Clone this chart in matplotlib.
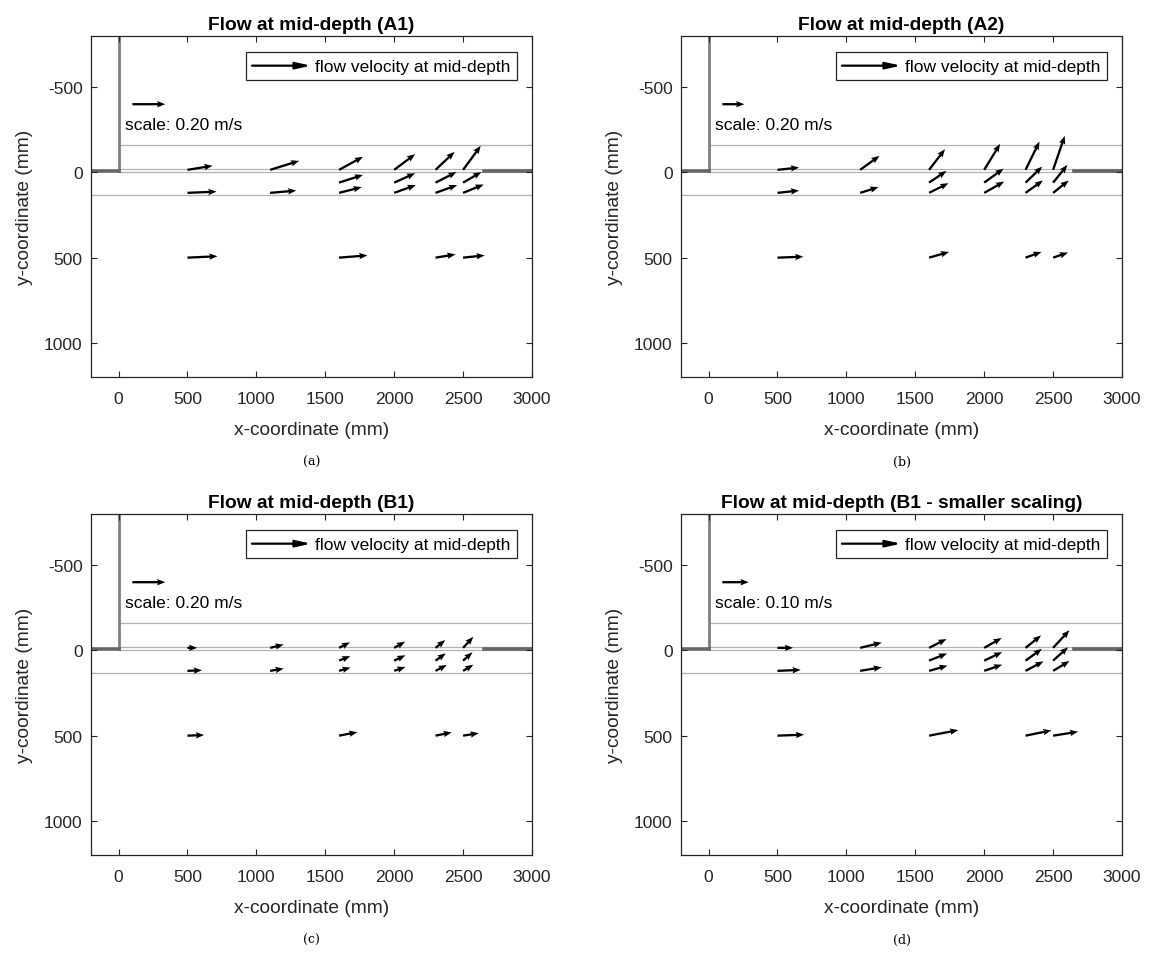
import matplotlib
matplotlib.use("Agg")
import matplotlib.pyplot as plt
from matplotlib.patches import Rectangle

plt.rcParams['font.family'] = ['Liberation Sans', 'DejaVu Sans']
plt.rcParams['axes.unicode_minus'] = False

# measuring points (mm)
pt_x = [500, 500, 500,
        1100, 1100,
        1600, 1600, 1600, 1600,
        2000, 2000, 2000,
        2300, 2300, 2300, 2300,
        2500, 2500, 2500, 2500]
pt_y = [-15, 120, 500,
        -15, 120,
        -15, 60, 120, 500,
        -15, 60, 120,
        -15, 60, 120, 500,
        -15, 60, 120, 500]

# velocity components at mid-depth (m/s), negative v points towards the upper wall
u_a1 = [0.152, 0.176, 0.182,
        0.176, 0.158,
        0.145, 0.145, 0.137, 0.172,
        0.127, 0.127, 0.131,
        0.115, 0.127, 0.131, 0.121,
        0.107, 0.111, 0.125, 0.131]
v_a1 = [-0.020, -0.006, -0.007,
        -0.044, -0.011,
        -0.064, -0.038, -0.028, -0.011,
        -0.077, -0.046, -0.038,
        -0.088, -0.052, -0.038, -0.016,
        -0.118, -0.052, -0.041, -0.011]

u_a2 = [0.197, 0.197, 0.236,
        0.176, 0.167,
        0.145, 0.158, 0.176, 0.182,
        0.145, 0.176, 0.182,
        0.127, 0.152, 0.158, 0.145,
        0.106, 0.130, 0.142, 0.136]
v_a2 = [-0.017, -0.017, -0.007,
        -0.103, -0.042,
        -0.152, -0.086, -0.071, -0.042,
        -0.191, -0.103, -0.083,
        -0.208, -0.118, -0.091, -0.042,
        -0.250, -0.130, -0.091, -0.037]

u_b1 = [0.059, 0.088, 0.101,
        0.082, 0.082,
        0.066, 0.068, 0.070, 0.111,
        0.066, 0.068, 0.068,
        0.059, 0.062, 0.068, 0.098,
        0.062, 0.057, 0.062, 0.095]
v_b1 = [0.000, -0.003, -0.003,
        -0.016, -0.011,
        -0.027, -0.022, -0.016, -0.017,
        -0.030, -0.026, -0.019,
        -0.038, -0.036, -0.029, -0.016,
        -0.054, -0.041, -0.030, -0.012]

titles = ['Flow at mid-depth (A1)', 'Flow at mid-depth (A2)',
          'Flow at mid-depth (B1)', 'Flow at mid-depth (B1 - smaller scaling)']
captions = ['(a)', '(b)', '(c)', '(d)']
ref_speed = [0.20, 0.20, 0.20, 0.10]      # m/s of the scale arrow
mm_per_ms = [1196, 797, 1196, 1913]        # quiver scaling, mm per m/s

W, H = 1152, 954
fig = plt.figure(figsize=(W / 100, H / 100), dpi=100)

boxes = [(91, 37), (681, 37), (91, 515), (681, 515)]
aw, ah = 441, 341

def draw_panel(ax, u, v, title, speed, k):
    # channel walls
    ax.plot([0, 0], [-800, -10], color='0.5', lw=2.0, zorder=1)
    ax.plot([-200, 0], [-10, -10], color='0.4', lw=2.6, zorder=1)
    ax.plot([2650, 3000], [-10, -10], color='0.4', lw=2.6, zorder=1)
    for yl, x0 in [(-160, 0), (-22, 0), (0, 0), (130, -200)]:
        ax.plot([x0, 3000], [yl, yl], color='0.7', lw=0.9, zorder=0)

    qkw = dict(angles='xy', scale_units='xy', scale=1.0 / k, width=0.0052,
               headwidth=2.8, headlength=3.6, headaxislength=3.2,
               color='k', zorder=3)
    ax.quiver(pt_x, pt_y, u, v, **qkw)
    # scale arrow
    ax.quiver([100], [-400], [speed], [0], **qkw)
    ax.text(50, -280, 'scale: %.2f m/s' % speed, fontsize=12.5,
            va='center', ha='left', color='k')

    # legend
    ax.add_patch(Rectangle((0.351, 0.871), 0.615, 0.083, transform=ax.transAxes,
                           fill=False, ec='0.15', lw=0.9, zorder=4))
    ax.annotate('', xy=(0.499, 0.913), xytext=(0.365, 0.913),
                xycoords='axes fraction', textcoords='axes fraction',
                arrowprops=dict(arrowstyle='-|>,head_length=0.9,head_width=0.2',
                                lw=1.6, color='k', shrinkA=0, shrinkB=0))
    ax.text(0.508, 0.912, 'flow velocity at mid-depth', transform=ax.transAxes,
            fontsize=12.5, va='center', ha='left')

    ax.set_xlim(-200, 3000)
    ax.set_ylim(1200, -800)
    ax.set_xticks([0, 500, 1000, 1500, 2000, 2500, 3000])
    ax.set_yticks([-500, 0, 500, 1000])
    ax.tick_params(direction='in', top=True, right=True, length=4,
                   labelsize=12.5, colors='0.15', width=0.8)
    ax.tick_params(axis='x', pad=10)
    ax.tick_params(axis='y', pad=6)
    for s in ax.spines.values():
        s.set_color('0.15')
        s.set_linewidth(0.9)
    ax.set_xlabel('x-coordinate (mm)', fontsize=13.75, color='0.15', labelpad=11)
    ax.set_ylabel('y-coordinate (mm)', fontsize=13.75, color='0.15', labelpad=8)
    ax.set_title(title, fontsize=13.75, fontweight='bold', pad=5)


series = [(u_a1, v_a1), (u_a2, v_a2), (u_b1, v_b1), (u_b1, v_b1)]
for i, (x0, y0) in enumerate(boxes):
    ax = fig.add_axes([x0 / W, 1 - (y0 + ah) / H, aw / W, ah / H])
    draw_panel(ax, series[i][0], series[i][1], titles[i], ref_speed[i], mm_per_ms[i])
    cy = 462 if i < 2 else 940
    fig.text((x0 + aw / 2) / W, 1 - cy / H, captions[i], ha='center', va='center',
             family='DejaVu Serif', fontsize=9)

fig.savefig('out.png', dpi=100)
